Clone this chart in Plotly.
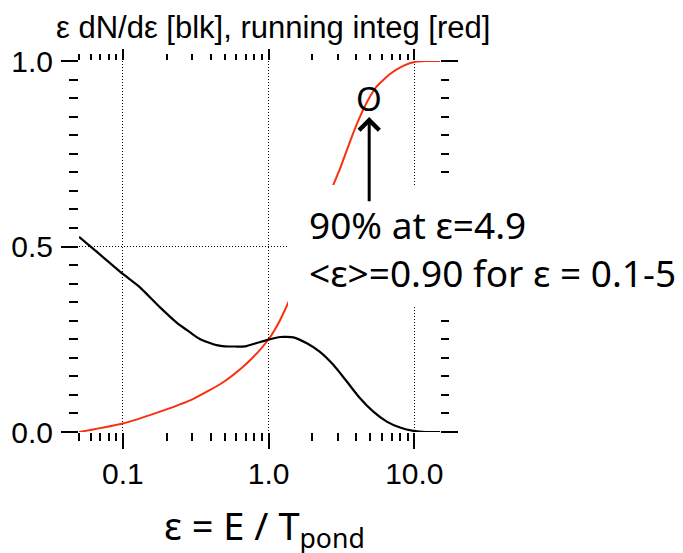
import math
import plotly.graph_objects as go

# Spectrum eps*dN/deps (black) and its normalised running integral (red)
eps_blk = [0.05, 0.063, 0.1, 0.131, 0.18, 0.234, 0.274, 0.305, 0.34, 0.40, 0.44,
           0.5, 0.69, 0.83, 1.0, 1.2, 1.48, 1.83, 2.25, 2.78, 3.44, 4.24,
           5.23, 6.47, 7.98, 9.85, 12.0, 15.0]
spec_blk = [0.526, 0.493, 0.426, 0.39, 0.336, 0.295, 0.275, 0.262, 0.250, 0.239, 0.234,
            0.231, 0.231, 0.240, 0.249, 0.256, 0.255, 0.239, 0.216, 0.181, 0.136, 0.091,
            0.055, 0.028, 0.012, 0.003, 0.0, 0.0]

eps_red = [0.05, 0.1, 0.18, 0.3, 0.47, 0.65, 0.83, 1.0, 1.1, 1.2, 1.39,
           2.78, 3.1, 3.65, 4.24, 4.9, 5.5, 6.8, 8.4, 10.2, 12.0, 15.0]
integ_red = [0.0, 0.023, 0.055, 0.088, 0.13, 0.172, 0.212, 0.25, 0.275, 0.302, 0.356,
             0.666, 0.711, 0.787, 0.85, 0.90, 0.931, 0.965, 0.987, 0.998, 1.0, 1.0]

# 90% point of the running integral
eps90, frac90 = 4.9, 0.90

x_major = [0.1, 1.0, 10.0]
x_major_text = ["0.1", "1.0", "10.0"]
x_minor = [0.05, 0.06, 0.07, 0.08, 0.09,
           0.2, 0.3, 0.4, 0.5, 0.6, 0.7, 0.8, 0.9,
           2, 3, 4, 5, 6, 7, 8, 9]
y_major = [0.0, 0.5, 1.0]
y_major_text = ["0.0", "0.5", "1.0"]
y_minor = [round(0.05 * k, 2) for k in range(1, 20) if k != 10]

x_range = [math.log10(0.05), math.log10(15.0)]
y_range = [0.0, 1.0]

tick_font = dict(family="Liberation Sans, Arial, sans-serif", size=30, color="black")
note_font = dict(family="Noto Sans, sans-serif", size=37, color="black")
red = "#f8300f"

fig = go.Figure()
fig.add_trace(go.Scatter(x=eps_red, y=integ_red, mode="lines",
                         line=dict(color=red, width=2, shape="spline", smoothing=0.5),
                         hoverinfo="skip", showlegend=False))
fig.add_trace(go.Scatter(x=eps_blk, y=spec_blk, mode="lines",
                         line=dict(color="black", width=2.2, shape="spline", smoothing=0.5),
                         hoverinfo="skip", showlegend=False))
# empty trace so the top/right tick axes form their own subplot
fig.add_trace(go.Scatter(x=[], y=[], xaxis="x2", yaxis="y2", showlegend=False))

grid = dict(showgrid=True, gridcolor="black", gridwidth=1, griddash="1px,2px")

fig.update_layout(
    width=683, height=553,
    margin=dict(l=79, r=243, t=61, b=121),
    paper_bgcolor="white", plot_bgcolor="white",
    xaxis=dict(type="log", range=x_range, tickvals=x_major, ticktext=x_major_text,
               ticks="outside", ticklen=16, tickwidth=2, tickcolor="black",
               tickfont=tick_font, ticklabelstandoff=-1,
               showline=False, zeroline=False, fixedrange=True,
               minor=dict(tickvals=x_minor, ticks="outside", ticklen=8,
                          tickwidth=2, tickcolor="black", showgrid=False),
               **grid),
    xaxis2=dict(type="log", range=x_range, overlaying="x", side="top", anchor="y2",
                tickvals=x_major, ticks="outside", ticklen=11, tickwidth=2,
                tickcolor="black", showticklabels=False, showgrid=False,
                showline=False, zeroline=False, fixedrange=True,
                minor=dict(tickvals=x_minor, ticks="outside", ticklen=6,
                           tickwidth=2, tickcolor="black", showgrid=False)),
    yaxis=dict(range=y_range, tickvals=y_major, ticktext=y_major_text,
               ticks="outside", ticklen=17, tickwidth=2, tickcolor="black",
               tickfont=tick_font, ticklabelstandoff=2,
               showline=False, zeroline=False, fixedrange=True,
               minor=dict(tickvals=y_minor, ticks="outside", ticklen=9,
                          tickwidth=2, tickcolor="black", showgrid=False),
               **grid),
    yaxis2=dict(range=y_range, overlaying="y", side="right", anchor="x2",
                tickvals=y_major, ticks="outside", ticklen=17, tickwidth=2,
                tickcolor="black", showticklabels=False, showgrid=False,
                showline=False, zeroline=False, fixedrange=True,
                minor=dict(tickvals=y_minor, ticks="outside", ticklen=8,
                           tickwidth=2, tickcolor="black", showgrid=False)),
)

# white text panel over the upper right of the plot
fig.add_shape(type="rect", xref="paper", yref="paper",
              x0=0.579, x1=1.75, y0=0.342, y1=0.666,
              fillcolor="white", line=dict(width=0), layer="above")

# marker letter at the 90% point and the arrow pointing to it
fig.add_annotation(x=math.log10(eps90), y=frac90, xref="x", yref="y",
                   text="O", showarrow=False, font=dict(family="Noto Sans, sans-serif",
                                                        size=33, color="black"),
                   xanchor="center", yanchor="middle")
fig.add_annotation(x=math.log10(eps90), y=0.849, xref="x", yref="y",
                   ax=math.log10(eps90), ay=0.618, axref="x", ayref="y",
                   text="", showarrow=True, arrowhead=4, arrowsize=1.3,
                   arrowwidth=3, arrowcolor="black")

fig.add_annotation(x=(307 - 79) / 361, y=0.558, xref="paper", yref="paper",
                   text="90% at ε=4.9", showarrow=False, font=note_font,
                   xanchor="left", yanchor="middle", align="left")
fig.add_annotation(x=(307 - 79) / 361, y=0.4286, xref="paper", yref="paper",
                   text="&lt;ε&gt;=0.90 for ε = 0.1-5", showarrow=False, font=note_font,
                   xanchor="left", yanchor="middle", align="left")

# axis title and plot heading
fig.add_annotation(x=(264 - 79) / 361, y=(432 - 527) / 371, xref="paper", yref="paper",
                   text="ε = E / T<sub>pond</sub>", showarrow=False,
                   font=dict(family="Noto Sans, sans-serif", size=38, color="black"),
                   xanchor="center", yanchor="middle")
fig.add_annotation(x=(54 - 79) / 361, y=(432 - 28) / 371, xref="paper", yref="paper",
                   text="ε dN/dε [blk], running integ [red]", showarrow=False,
                   font=dict(family="Liberation Sans, Arial, sans-serif", size=31,
                             color="black"),
                   xanchor="left", yanchor="middle", align="left")

fig.write_html("out.html")
